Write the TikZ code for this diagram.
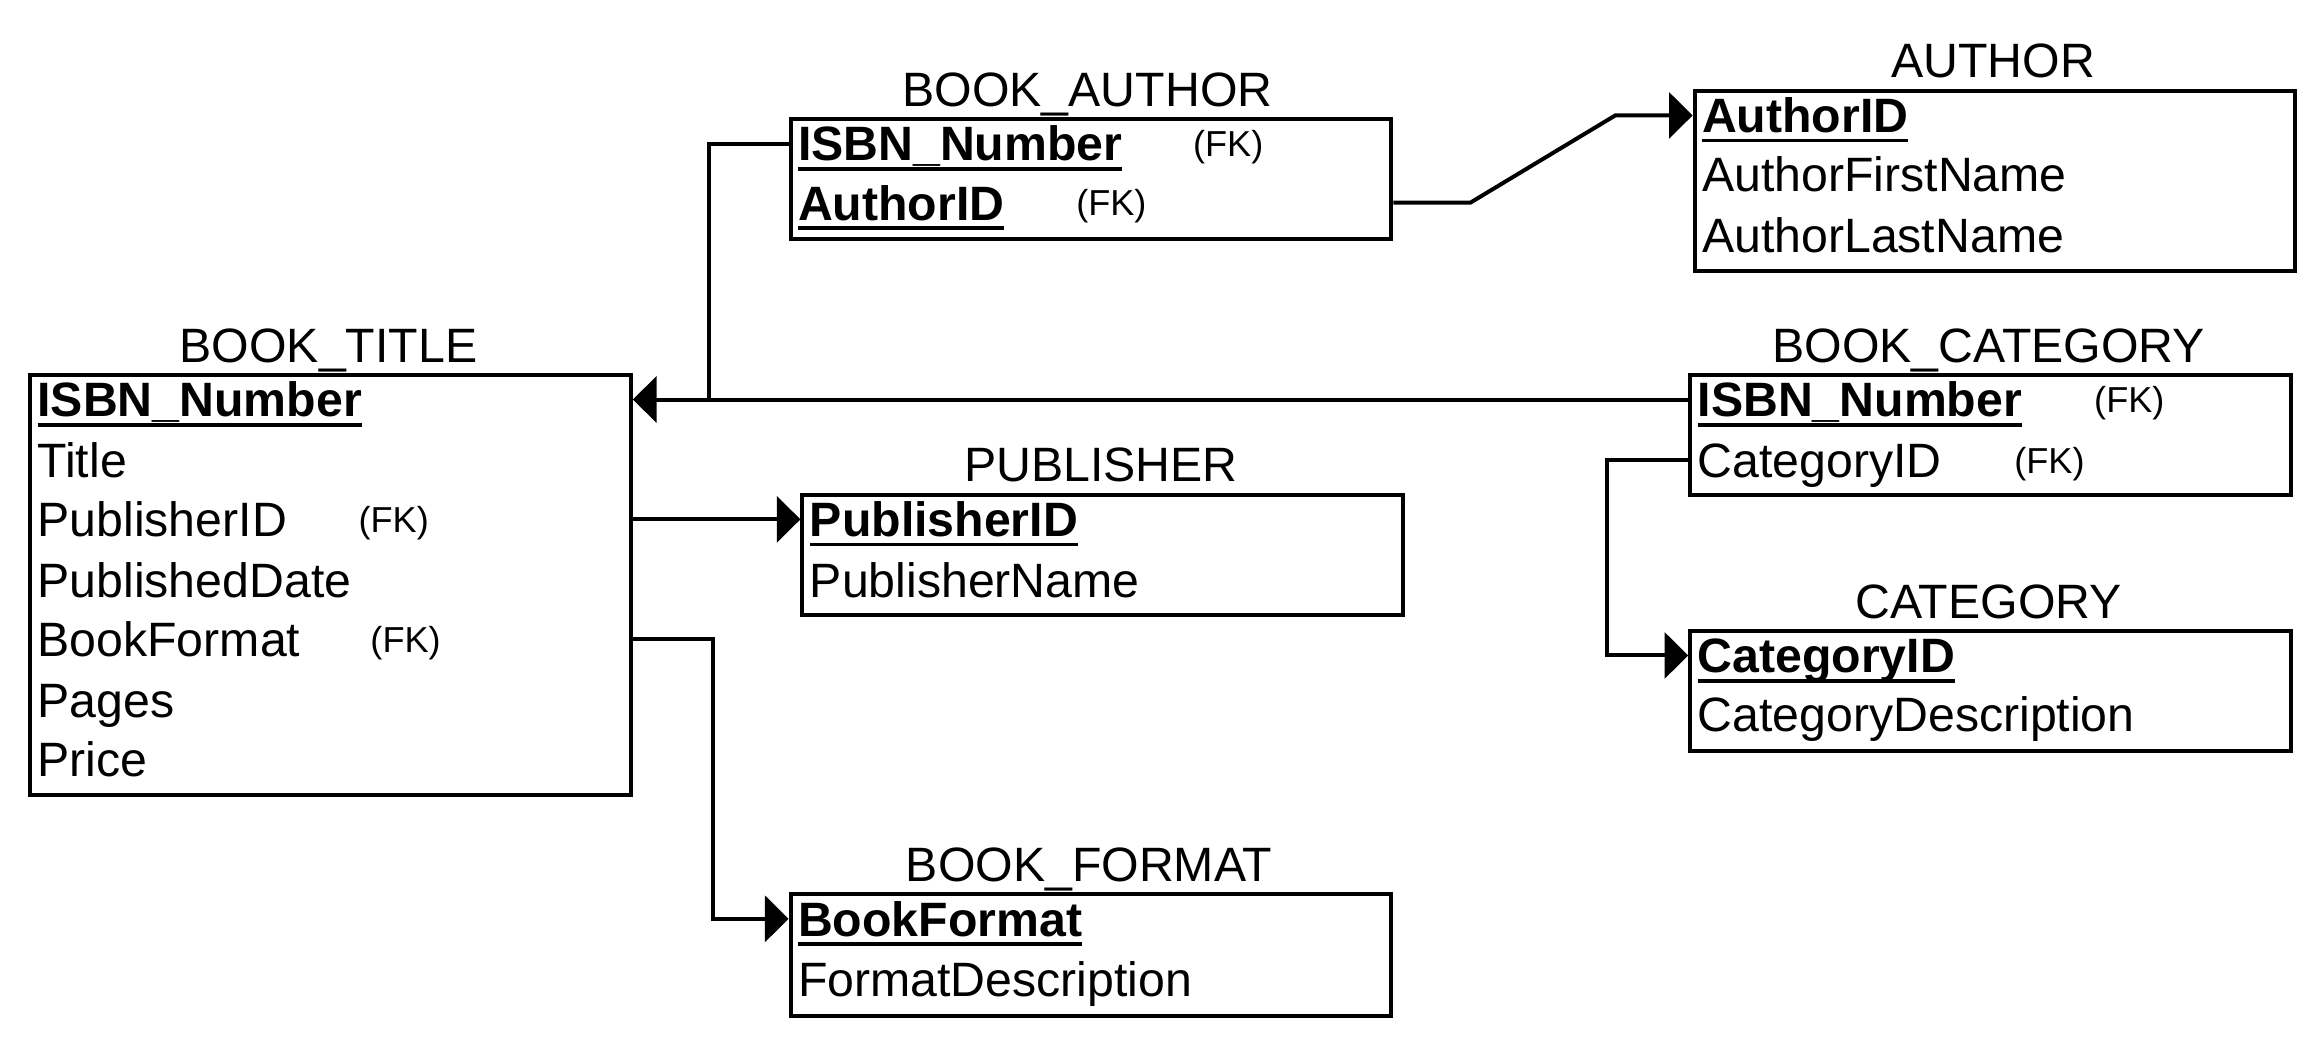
\documentclass[tikz,border=0pt]{standalone}
\usepackage{fontspec}
\setmainfont{Liberation Sans}
\usetikzlibrary{arrows.meta}
\newcommand\pkey[1]{\setbox0\hbox{\bfseries #1}\rlap{\copy0}\rule[-3.3pt]{\wd0}{1.2pt}}
\begin{document}
\begin{tikzpicture}[x=0.5pt,y=-0.5pt, font=\fontsize{16.3}{19}\selectfont,
 ebox/.style={draw, line width=1.35pt, inner sep=0pt, anchor=north west, minimum width=203pt},
 row/.style={anchor=west, inner sep=0pt, text height=11.7pt, text depth=0pt},
 ttl/.style={anchor=center, inner sep=0pt, text height=11.7pt, text depth=0pt},
 fk/.style={anchor=west, inner sep=0pt, font=\fontsize{12.2}{14}\selectfont, text height=8.7pt, text depth=0pt},
 conn/.style={line width=1.35pt},
 arr/.style={conn, -{Triangle[length=8pt,width=15.5pt]}}]
\useasboundingbox (0,0) rectangle (1568,703);

% BOOK_TITLE
\node[ebox, minimum height=142pt] (bt) at (19,252) {};
\node[ttl] (btt) at (222,233) {BOOK\_TITLE};
\node[row] (bt1) at (25,270) {\pkey{ISBN\_Number}};
\node[row] (bt2) at (25,311) {Title};
\node[row] (bt3) at (25,351) {PublisherID};
\node[fk] (bt3f) at (242,351) {(FK)};
\node[row] (bt4) at (25,392) {PublishedDate};
\node[row] (bt5) at (25,432) {BookFormat};
\node[fk] (bt5f) at (250,432) {(FK)};
\node[row] (bt6) at (25,473) {Pages};
\node[row] (bt7) at (25,513) {Price};

% BOOK_AUTHOR
\node[ebox, minimum height=40.5pt] (ba) at (533,79) {};
\node[ttl] (bat) at (735,60) {BOOK\_AUTHOR};
\node[row] (ba1) at (539,97) {\pkey{ISBN\_Number}};
\node[fk] (ba1f) at (806,97) {(FK)};
\node[row] (ba2) at (539,137) {\pkey{AuthorID}};
\node[fk] (ba2f) at (727,137) {(FK)};

% AUTHOR
\node[ebox, minimum height=61pt] (au) at (1144,60) {};
\node[ttl] (aut) at (1347,41) {AUTHOR};
\node[row] (au1) at (1150,78) {\pkey{AuthorID}};
\node[row] (au2) at (1150,118) {AuthorFirstName};
\node[row] (au3) at (1150,159) {AuthorLastName};

% BOOK_CATEGORY
\node[ebox, minimum height=40.5pt] (bc) at (1141,252) {};
\node[ttl] (bct) at (1344,233) {BOOK\_CATEGORY};
\node[row] (bc1) at (1147,270) {\pkey{ISBN\_Number}};
\node[fk] (bc1f) at (1415,270) {(FK)};
\node[row] (bc2) at (1147,311) {CategoryID};
\node[fk] (bc2f) at (1361,311) {(FK)};

% PUBLISHER
\node[ebox, minimum height=40.5pt] (pu) at (541,333) {};
\node[ttl] (put) at (744,314) {PUBLISHER};
\node[row] (pu1) at (547,351) {\pkey{PublisherID}};
\node[row] (pu2) at (547,392) {PublisherName};

% CATEGORY
\node[ebox, minimum height=40.5pt] (ca) at (1141,425) {};
\node[ttl] (cat) at (1344,406) {CATEGORY};
\node[row] (ca1) at (1147,443) {\pkey{CategoryID}};
\node[row] (ca2) at (1147,483) {CategoryDescription};

% BOOK_FORMAT
\node[ebox, minimum height=41pt] (bf) at (533,603) {};
\node[ttl] (bft) at (736,584) {BOOK\_FORMAT};
\node[row] (bf1) at (539,621) {\pkey{BookFormat}};
\node[row] (bf2) at (539,662) {FormatDescription};

% connectors
\coordinate (j1) at (479,270);
\draw[arr] (bc.west |- bc1) -- (bt.east |- bt1);
\draw[conn] (ba.west |- ba1) -| (j1);
\draw[arr] (ba.east |- ba2) -- ++(52,0) -- ++(98,-59) -- (au.west |- au1);
\draw[arr] (bt.east |- bt3) -- (pu.west |- pu1);
\draw[arr] (bt.east |- bt5) -- ++(54,0) |- (bf.west |- bf1);
\draw[arr] (bc.west |- bc2) -- ++(-55,0) |- (ca.west |- ca1);
\end{tikzpicture}
\end{document}
